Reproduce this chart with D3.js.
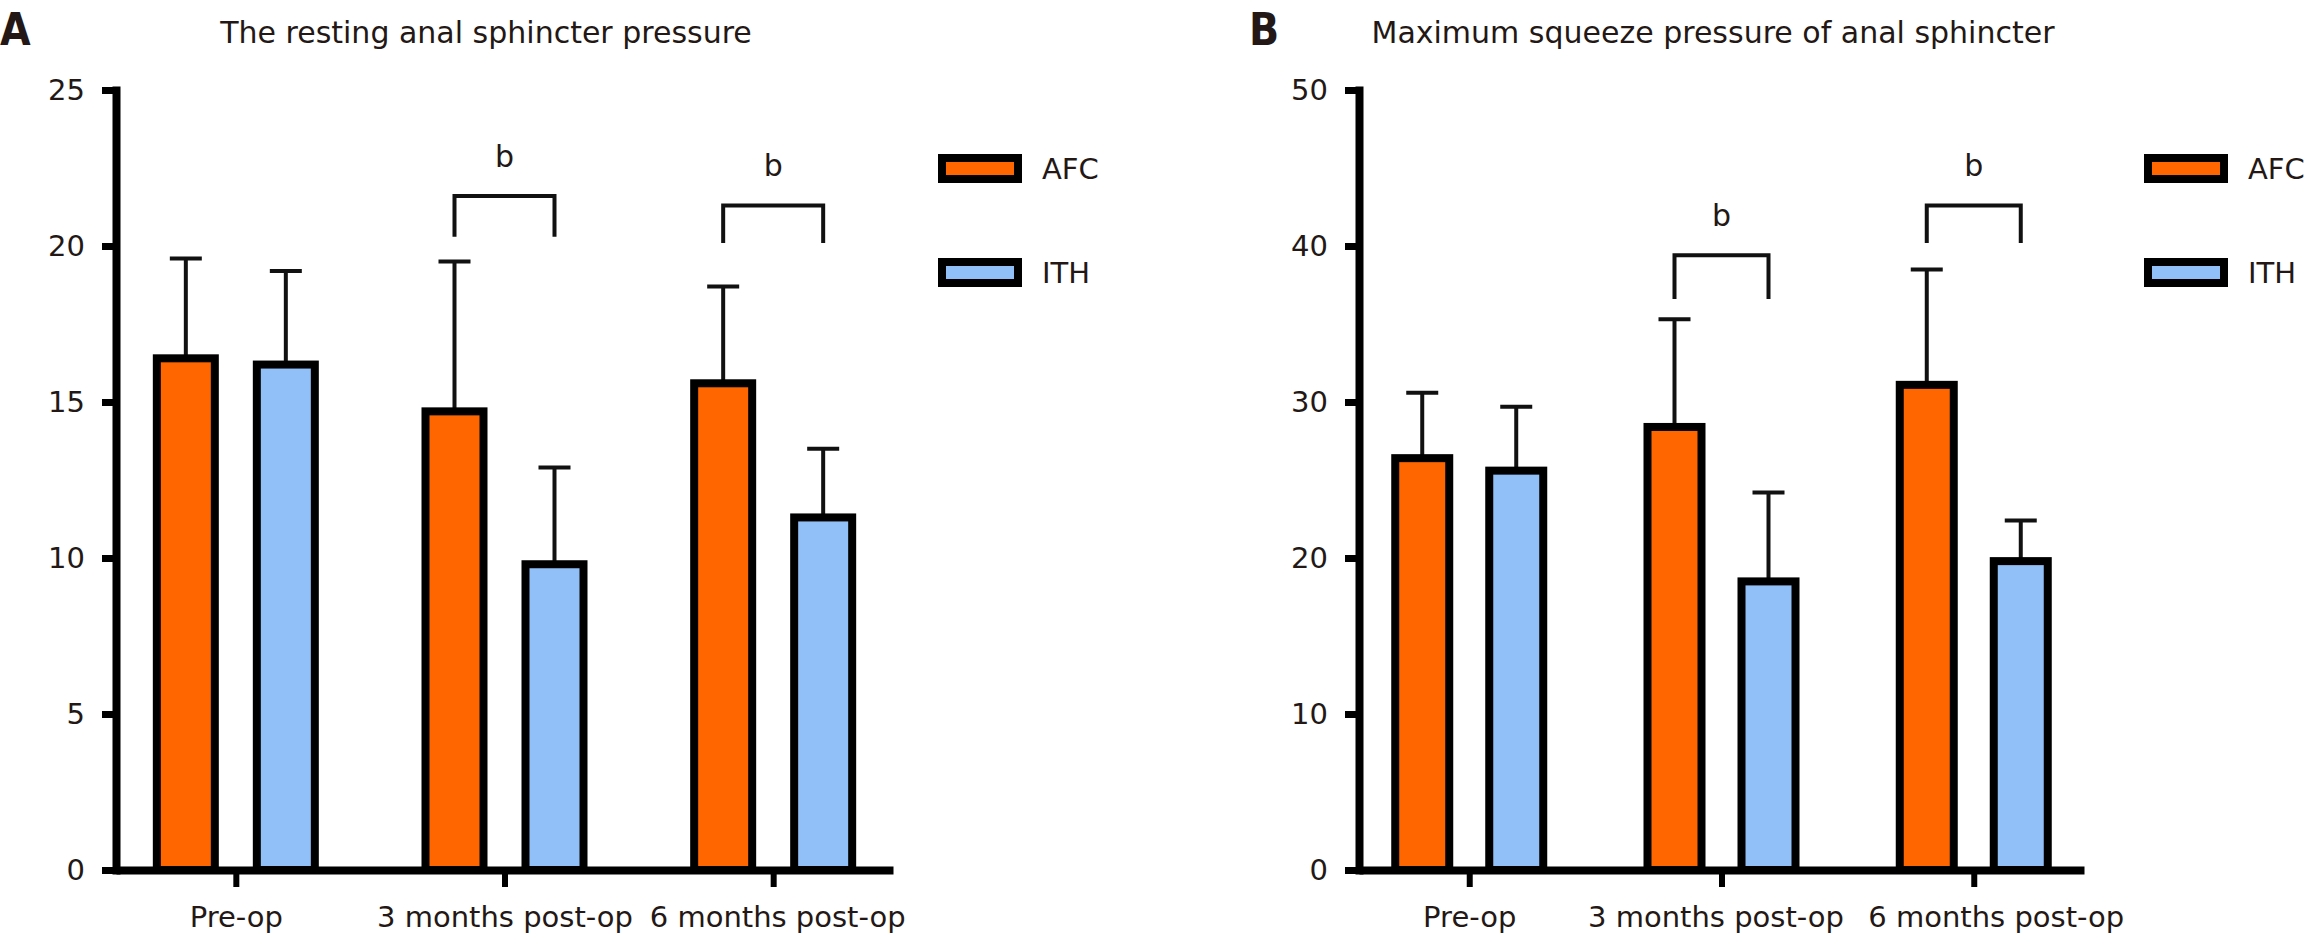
<!DOCTYPE html>
<html lang="en">
<head>
<meta charset="UTF-8">
<title>Anal sphincter pressure</title>
<script src="https://cdn.jsdelivr.net/npm/d3@7"></script>
<style>
  body { margin: 0; background: #fff; }
  svg { display: block; font-family: "DejaVu Sans", sans-serif; }
  text { fill: #231815; }
</style>
</head>
<body>
<script>
const width = 2314, height = 948;

const categories = ["Pre-op", "3 months post-op", "6 months post-op"];
const groups = ["AFC", "ITH"];
const colors = ["#ff6600", "#91bff8"];

// A: resting pressure (mean and SD)
const restAFC = [16.4, 14.7, 15.6];
const restAFCsd = [3.2, 4.8, 3.1];
const restITH = [16.2, 9.8, 11.3];
const restITHsd = [3.0, 3.1, 2.2];
const restTicks = [0, 5, 10, 15, 20, 25];

// B: maximum squeeze pressure
const squeezeAFC = [26.4, 28.4, 31.1];
const squeezeAFCsd = [4.2, 6.9, 7.4];
const squeezeITH = [25.6, 18.5, 19.8];
const squeezeITHsd = [4.1, 5.7, 2.6];
const squeezeTicks = [0, 10, 20, 30, 40, 50];

// significance brackets: category, bracket top, leg bottom
const restSig = [["3 months post-op", 21.6, 20.3], ["6 months post-op", 21.3, 20.1]];
const squeezeSig = [["3 months post-op", 39.4, 36.6], ["6 months post-op", 42.6, 40.2]];

const svg = d3.select("body").append("svg")
    .attr("width", width)
    .attr("height", height);

function panel(o) {
    const g = svg.append("g");

    const x = d3.scalePoint().domain(categories).range([o.left, o.right]).padding(o.pad);
    const y = d3.scaleLinear().domain([0, o.ticks[o.ticks.length - 1]]).range([870, 90]);
    const sub = d3.scaleBand().domain(groups)
        .range([-(o.sep + o.barW) / 2, (o.sep + o.barW) / 2])
        .paddingInner(1 - o.barW / o.sep);

    const rows = [];
    categories.forEach((c, i) => {
        rows.push({cat: c, grp: "AFC", v: o.afc[i], sd: o.afcSd[i]});
        rows.push({cat: c, grp: "ITH", v: o.ith[i], sd: o.ithSd[i]});
    });
    const cx = d => x(d.cat) + sub(d.grp) + sub.bandwidth() / 2;

    // error bars (upper only)
    g.selectAll("line.err").data(rows).join("line").attr("class", "err")
        .attr("x1", cx).attr("x2", cx)
        .attr("y1", d => y(d.v)).attr("y2", d => y(d.v + d.sd))
        .attr("stroke", "#111").attr("stroke-width", 4);
    g.selectAll("line.cap").data(rows).join("line").attr("class", "cap")
        .attr("x1", d => cx(d) - 16).attr("x2", d => cx(d) + 16)
        .attr("y1", d => y(d.v + d.sd)).attr("y2", d => y(d.v + d.sd))
        .attr("stroke", "#111").attr("stroke-width", 4);

    // bars
    g.selectAll("rect.bar").data(rows).join("rect").attr("class", "bar")
        .attr("x", d => x(d.cat) + sub(d.grp))
        .attr("width", sub.bandwidth())
        .attr("y", d => y(d.v))
        .attr("height", d => y(0) - y(d.v))
        .attr("fill", d => colors[groups.indexOf(d.grp)])
        .attr("stroke", "#000").attr("stroke-width", 8);

    // axes
    const ya = g.append("g").attr("transform", `translate(${o.left},0)`)
        .call(d3.axisLeft(y).tickValues(o.ticks).tickSize(14).tickSizeOuter(0).tickPadding(17));
    ya.select(".domain").attr("stroke", "#000").attr("stroke-width", 8).attr("stroke-linecap", "square");
    ya.selectAll(".tick line").attr("stroke", "#000").attr("stroke-width", 7);
    ya.selectAll(".tick text").attr("font-size", 29).attr("font-family", "DejaVu Sans").attr("fill", "#231815");

    const xa = g.append("g").attr("transform", "translate(0,870)")
        .call(d3.axisBottom(x).tickSize(17).tickSizeOuter(0).tickPadding(19));
    xa.select(".domain").attr("stroke", "#000").attr("stroke-width", 8);
    xa.selectAll(".tick line").attr("stroke", "#000").attr("stroke-width", 6);
    xa.selectAll(".tick text").attr("font-size", 29).attr("font-family", "DejaVu Sans").attr("fill", "#231815")
        .attr("dx", (d, i) => o.labelShift[i]);

    // significance brackets
    o.sig.forEach(([c, top, bot]) => {
        const x1 = x(c) + sub("AFC") + sub.bandwidth() / 2;
        const x2 = x(c) + sub("ITH") + sub.bandwidth() / 2;
        g.append("path")
            .attr("d", `M${x1},${y(bot)}V${y(top)}H${x2}V${y(bot)}`)
            .attr("fill", "none").attr("stroke", "#111").attr("stroke-width", 4);
        g.append("text").attr("x", (x1 + x2) / 2).attr("y", y(top) - 29)
            .attr("text-anchor", "middle").attr("font-size", 30).text("b");
    });

    // legend
    groups.forEach((k, i) => {
        const ly = 158 + i * 104;
        g.append("rect").attr("x", o.legendX).attr("y", ly).attr("width", 76).attr("height", 21)
            .attr("fill", colors[i]).attr("stroke", "#000").attr("stroke-width", 8);
        g.append("text").attr("x", o.legendX + 100).attr("y", ly + 10.5).attr("dy", "0.36em")
            .attr("font-size", 29).text(k);
    });

    // titles
    g.append("text").attr("x", o.titleX).attr("y", 43).attr("text-anchor", "middle")
        .attr("font-size", 30).text(o.title);
    g.append("text").attr("x", o.letterX).attr("y", 45)
        .attr("font-family", "DejaVu Sans Condensed").attr("font-size", 44)
        .attr("font-weight", "bold").text(o.letter);
}

panel({
    left: 116, right: 893, pad: 0.446, barW: 58, sep: 100,
    afc: restAFC, afcSd: restAFCsd, ith: restITH, ithSd: restITHsd,
    ticks: restTicks, sig: restSig, legendX: 942, labelShift: [0, 0, 4],
    title: "The resting anal sphincter pressure", titleX: 486,
    letter: "A", letterX: 0
});

panel({
    left: 1359, right: 2084, pad: 0.437, barW: 54, sep: 94,
    afc: squeezeAFC, afcSd: squeezeAFCsd, ith: squeezeITH, ithSd: squeezeITHsd,
    ticks: squeezeTicks, sig: squeezeSig, legendX: 2148, labelShift: [0, -6, 22],
    title: "Maximum squeeze pressure of anal sphincter", titleX: 1713,
    letter: "B", letterX: 1249
});
</script>
</body>
</html>
